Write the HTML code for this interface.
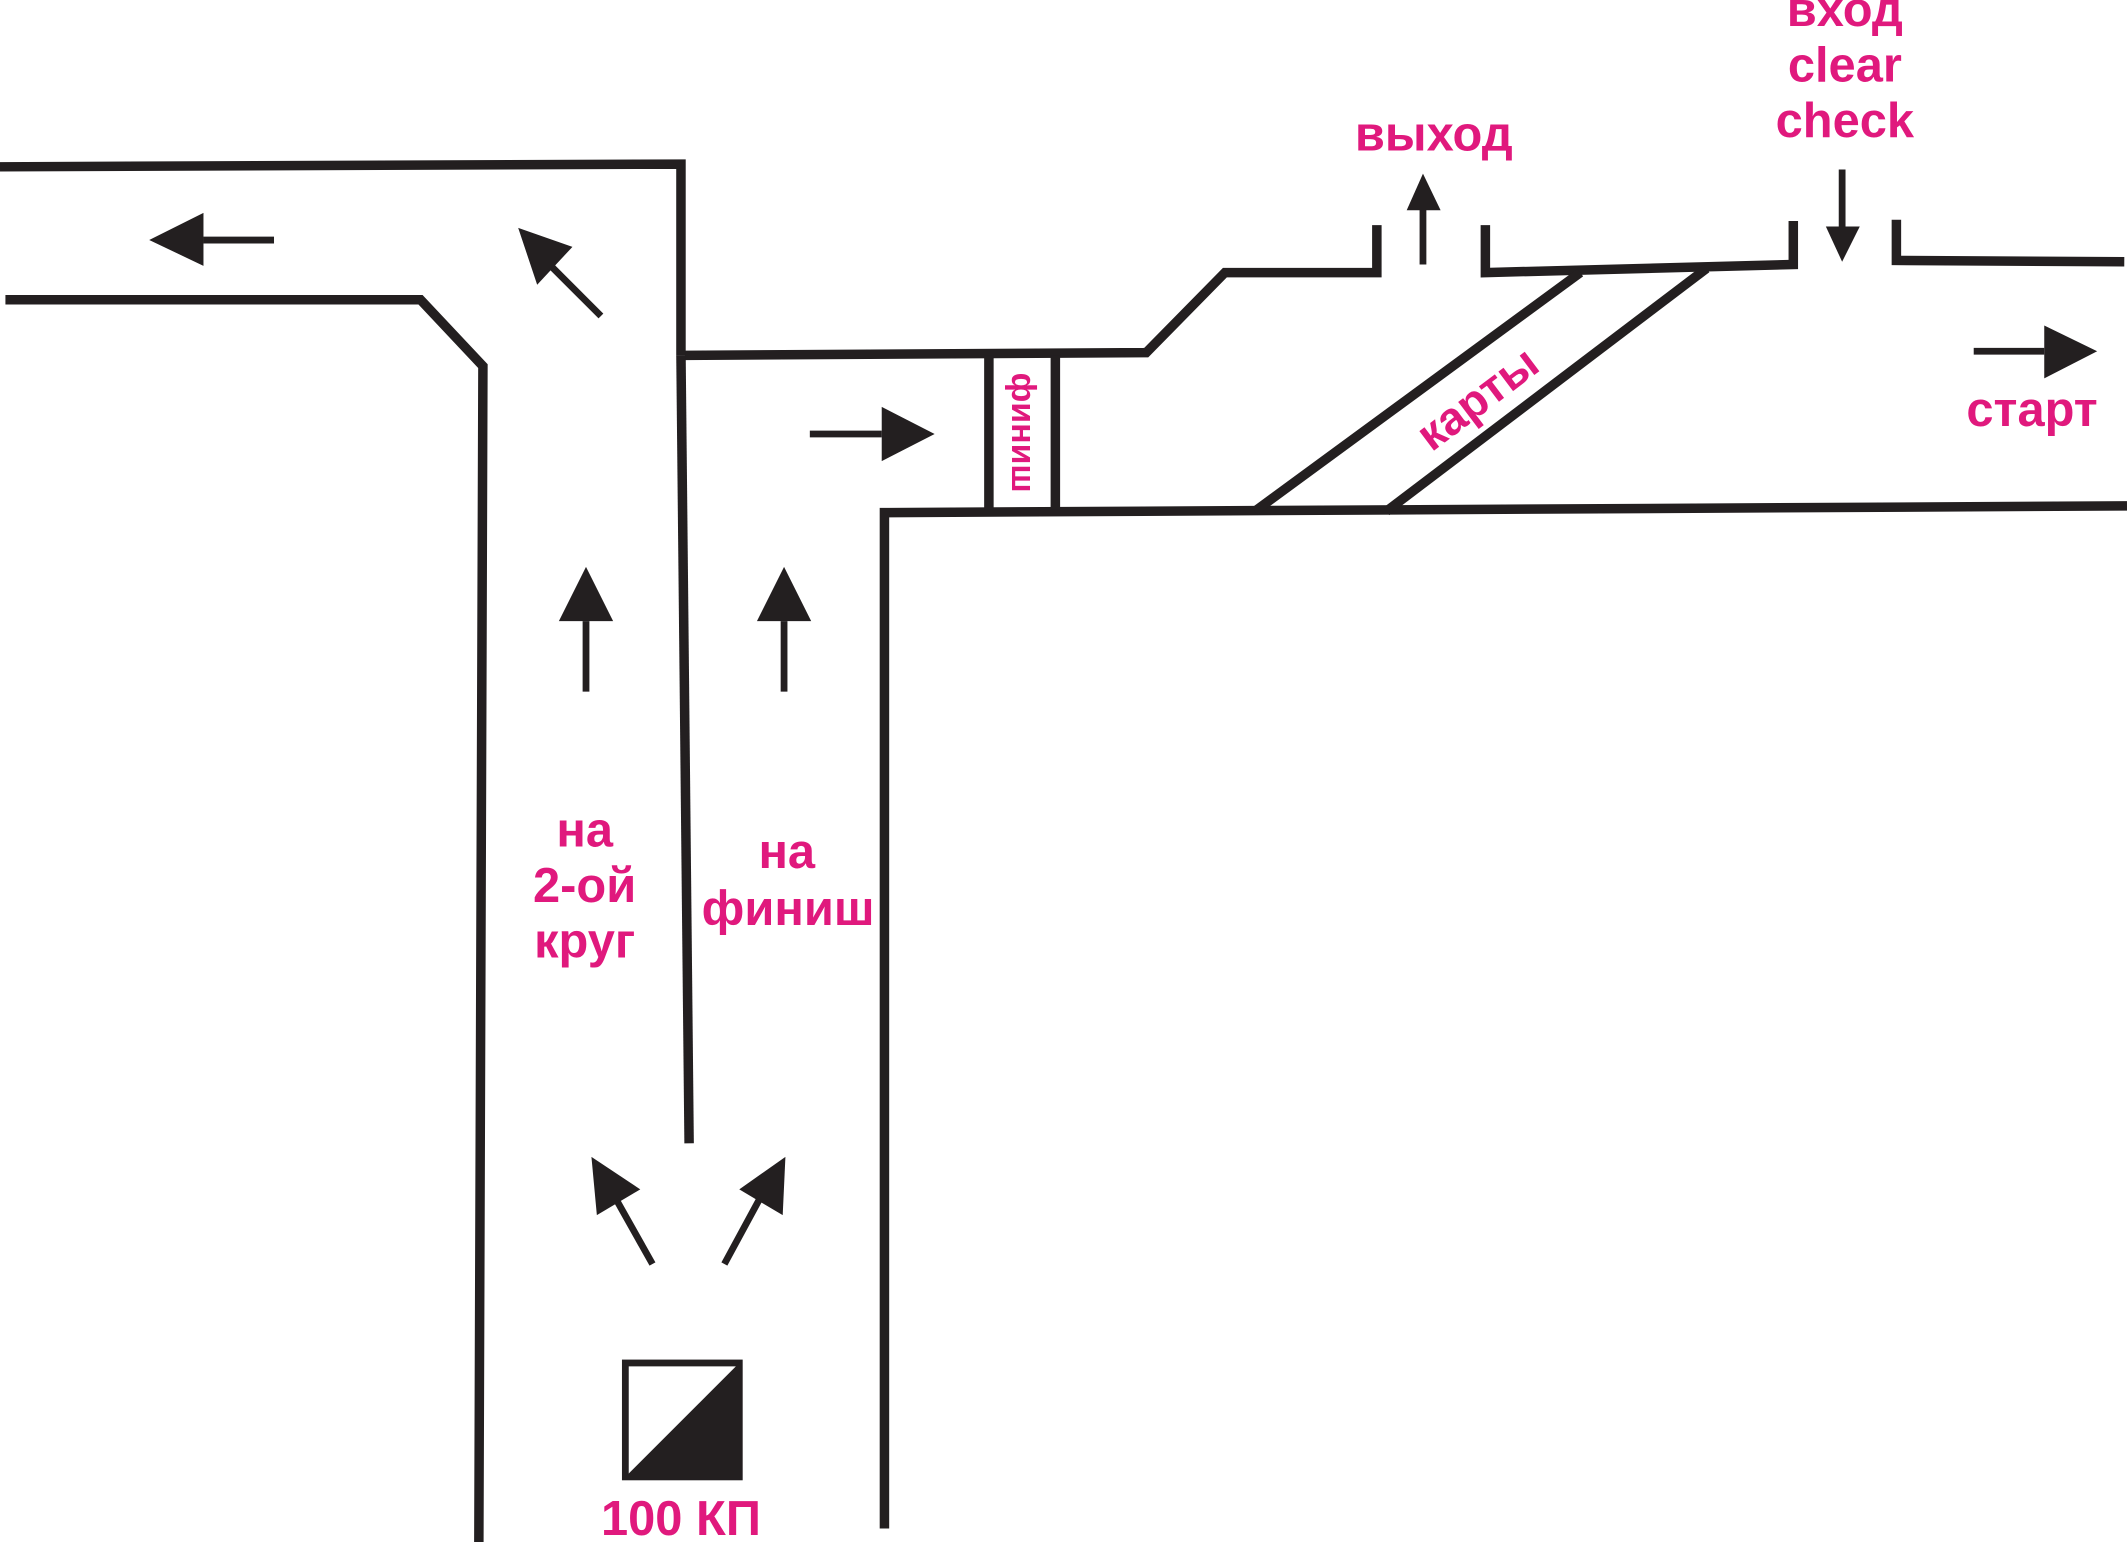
<!DOCTYPE html>
<html><head><meta charset="utf-8"><style>
html,body{margin:0;padding:0;background:#fff;}
svg{display:block;}
text{font-family:"Liberation Sans",sans-serif;font-weight:bold;fill:#e0197d;}
</style></head><body>
<svg width="2127" height="1542" viewBox="0 0 1568 1137" preserveAspectRatio="none">
<g fill="none" stroke="#231f20" stroke-width="7" stroke-linejoin="miter">
<polyline points="0,123 502,121 502,262"/>
<polyline points="508,843 502,262"/>
<polyline points="505,262 845,260 903,201 1015,201 1015,166"/>
<polyline points="4,221 310,221 356,270 353,1137"/>
<polyline points="652,1127 652,378 1568,373"/>
<line x1="729" y1="262" x2="729" y2="376"/>
<line x1="778" y1="262" x2="778" y2="376"/>
<polyline points="1095,166 1095,201 1322,195 1322,163"/>
<polyline points="1398,162 1398,192 1566,193"/>
<line x1="925" y1="377" x2="1165" y2="201"/>
<line x1="1022" y1="377" x2="1258" y2="198"/>
</g>
<g stroke="#231f20" stroke-width="5" fill="#231f20">
<line x1="150" y1="177" x2="202" y2="177"/><polygon stroke="none" points="110,177 150,157 150,196"/>
<line x1="443" y1="233" x2="405" y2="195"/><polygon stroke="none" points="382,168 422,182 396,210"/>
<line x1="432" y1="458" x2="432" y2="510"/><polygon stroke="none" points="432,418 412,458 452,458"/>
<line x1="578" y1="458" x2="578" y2="510"/><polygon stroke="none" points="578,418 558,458 598,458"/>
<line x1="597" y1="320" x2="650" y2="320"/><polygon stroke="none" points="689,320 650,300 650,340"/>
<line x1="481" y1="932" x2="454" y2="884"/><polygon stroke="none" points="436,853 472,877 440,896"/>
<line x1="534" y1="932" x2="560" y2="884"/><polygon stroke="none" points="579,853 577,896 545,877"/>
<line x1="1049" y1="150" x2="1049" y2="195"/><polygon stroke="none" points="1049,128 1037,155 1062,155"/>
<line x1="1358" y1="125" x2="1358" y2="170"/><polygon stroke="none" points="1358,193 1346,167 1371,167"/>
<line x1="1455" y1="259" x2="1507" y2="259"/><polygon stroke="none" points="1546,259 1507,240 1507,279"/>
</g>
<rect x="461" y="1005" width="84" height="84" fill="none" stroke="#231f20" stroke-width="5"/>
<polygon points="459,1091 547,1003 547,1091" fill="#231f20"/>
<g font-size="36" text-anchor="middle">
<text x="1057" y="111">выход</text>
<text x="1360" y="19">вход</text>
<text x="1360" y="60">clear</text>
<text x="1360" y="101">check</text>
<text x="1498" y="314">старт</text>
<text x="431" y="624">на</text>
<text x="431" y="665">2-ой</text>
<text x="431" y="706">круг</text>
<text x="580" y="640">на</text>
<text x="581" y="682">финиш</text>
<text x="502" y="1132">100 КП</text>
<text font-size="25" transform="translate(746,319) rotate(90)">финиш</text>
<text font-size="34" transform="translate(1096,303) rotate(-37)">карты</text>
</g>
</svg>
</body></html>
